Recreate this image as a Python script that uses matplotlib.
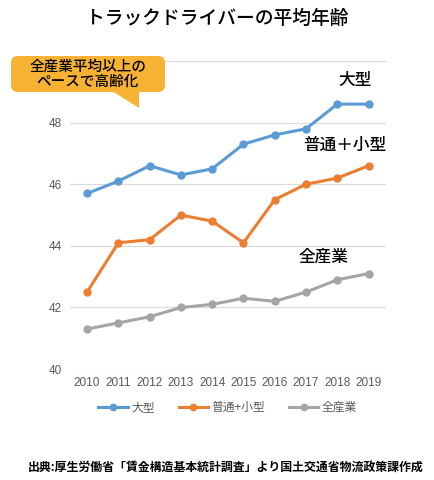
import matplotlib.pyplot as plt
from matplotlib.patches import FancyBboxPatch, Polygon

plt.rcParams['font.family'] = ['Noto Sans CJK JP', 'DejaVu Sans']

years = [2010, 2011, 2012, 2013, 2014, 2015, 2016, 2017, 2018, 2019]
large = [45.7, 46.1, 46.6, 46.3, 46.5, 47.3, 47.6, 47.8, 48.6, 48.6]
small = [42.5, 44.1, 44.2, 45.0, 44.8, 44.1, 45.5, 46.0, 46.2, 46.6]
all_ind = [41.3, 41.5, 41.7, 42.0, 42.1, 42.3, 42.2, 42.5, 42.9, 43.1]
yticks = [40, 42, 44, 46, 48, 50]
ylabels = ["40", "42", "44", "46", "48", ""]  # 50 is hidden under the callout

fig = plt.figure(figsize=(4.34, 4.8), dpi=100)
ax = fig.add_axes([0.161, 0.231, 0.728, 0.642])

ax.plot(years, large, color="#5B9BD5", marker="o", markersize=5, linewidth=2.2, label="大型")
ax.plot(years, small, color="#ED7D31", marker="o", markersize=5, linewidth=2.2, label="普通+小型")
ax.plot(years, all_ind, color="#A5A5A5", marker="o", markersize=5, linewidth=2.2, label="全産業")

ax.set_ylim(40, 50)
ax.set_xlim(2009.45, 2019.55)
ax.set_yticks(yticks)
ax.set_yticklabels(ylabels)
ax.set_xticks(years)
ax.tick_params(length=0, labelsize=8.5, labelcolor="#595959", pad=6)
for lab in ax.get_xticklabels() + ax.get_yticklabels():
    lab.set_family("Liberation Sans")
ax.grid(axis="y", color="#D9D9D9", linewidth=0.8)
ax.set_axisbelow(True)
for s in ax.spines.values():
    s.set_visible(False)

ax.legend(loc="upper center", bbox_to_anchor=(0.5, -0.068), ncol=3, frameon=False,
          fontsize=8.5, labelcolor="#595959", handlelength=2.5, columnspacing=2.0,
          handletextpad=0.3, markerscale=0.9)

fig.text(0.5, 0.962, "トラックドライバーの平均年齢", ha="center", va="center", fontsize=13.5,
         fontweight="medium")

fig.text(355 / 434, 1 - 80 / 480, "大型", ha="center", va="center", fontsize=12, fontweight="medium")
fig.text(345 / 434, 1 - 145 / 480, "普通＋小型", ha="center", va="center", fontsize=12,
         fontweight="medium")
fig.text(323 / 434, 1 - 257 / 480, "全産業", ha="center", va="center", fontsize=12,
         fontweight="medium")

# callout box
box = FancyBboxPatch((11 / 434, 1 - 92 / 480), 154 / 434, 36 / 480,
                     boxstyle="round,pad=0,rounding_size=0.015",
                     transform=fig.transFigure, facecolor="#F7B234", edgecolor="none", zorder=5)
fig.patches.append(box)
tail = Polygon([(112 / 434, 1 - 91 / 480), (139 / 434, 1 - 91 / 480), (139 / 434, 1 - 108 / 480)],
               closed=True, transform=fig.transFigure, facecolor="#F7B234", edgecolor="none",
               zorder=5)
fig.patches.append(tail)
fig.text(88 / 434, 1 - 74 / 480, "全産業平均以上の\nペースで高齢化", ha="center", va="center",
         fontsize=10.5, linespacing=1.1, fontweight="medium", zorder=6)

fig.text(0.521, 0.027, "出典:厚生労働省「賃金構造基本統計調査」より国土交通省物流政策課作成",
         ha="center", va="center", fontsize=8.6, fontweight="bold")

fig.savefig("out.png", dpi=100, facecolor="white")
